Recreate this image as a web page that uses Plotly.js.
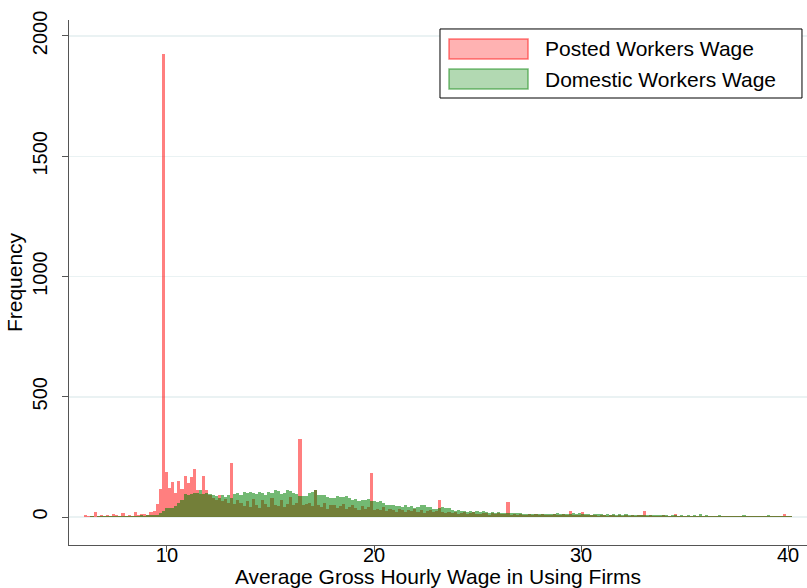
<!DOCTYPE html>
<html>
<head>
<meta charset="utf-8">
<script src="https://cdn.plot.ly/plotly-3.0.1.min.js"></script>
<style>
html,body{margin:0;padding:0;background:#fff;}
#chart{width:807px;height:588px;}
</style>
</head>
<body>
<div id="chart"></div>
<script>
// Histogram bins: start of first bin and bin width (wage units)
const binStart = 6.0;
const binWidth = 0.15;

// Frequency per bin – Posted workers
const postedFreq = [
  8,4,3,20,6,8,5,7,6,12,
  7,5,16,6,8,5,20,8,12,14,
  10,22,25,54,115,1925,186,122,147,100,
  150,115,170,140,168,200,112,95,172,112,
  90,80,70,92,65,75,60,225,55,70,
  60,45,65,40,75,50,38,70,55,42,
  80,50,45,72,40,55,85,48,60,324,
  50,55,60,45,112,50,40,58,35,48,
  52,38,45,55,35,42,50,38,30,45,
  35,40,183,30,35,28,40,25,32,30,
  22,35,28,20,30,25,32,22,28,18,
  25,30,20,24,71,20,18,22,15,20,
  14,18,22,12,16,20,14,12,18,15,
  10,16,13,18,12,14,62,10,12,8,
  14,10,9,12,7,11,9,13,8,10,
  7,12,9,8,11,10,25,9,8,10,
  21,8,10,7,9,6,8,10,6,7,
  9,5,8,6,10,5,7,6,8,9,
  25,5,7,4,6,5,8,4,6,5,
  12,4,6,5,3,6,4,5,3,6,
  4,5,3,4,6,3,5,4,3,5,
  4,3,5,4,3,6,3,4,3,5,
  4,3,4,3,5,12,4,3,2
];

// Frequency per bin – Domestic workers
const domesticFreq = [
  1,2,3,2,4,3,4,3,5,4,
  3,5,4,6,5,4,6,5,7,6,
  8,7,10,10,15,25,36,38,38,46,
  60,71,94,92,94,99,100,112,95,100,
  97,92,88,78,90,85,92,80,95,100,
  90,105,98,103,100,95,105,98,92,105,
  100,112,108,95,100,112,110,98,95,88,
  86,87,101,105,112,92,92,90,85,78,
  80,88,85,85,88,80,71,75,68,72,
  70,74,68,65,62,66,60,52,48,50,
  46,45,42,48,40,44,38,42,48,50,
  42,40,34,32,38,40,36,38,28,26,
  30,24,27,22,24,20,23,21,24,20,
  18,19,17,20,16,18,17,16,18,15,
  17,13,14,12,14,13,12,14,11,13,
  14,12,15,11,13,12,14,16,12,15,
  13,11,14,10,13,11,12,10,13,9,
  11,10,12,9,11,8,10,9,8,10,
  9,8,10,7,9,8,7,9,6,8,
  7,6,8,5,7,6,10,5,11,6,
  7,5,6,4,7,5,6,4,5,6,
  4,5,7,4,5,4,6,3,5,4,
  8,4,3,5,4,3,4,3,2
];

const seriesNames = ["Posted Workers Wage", "Domestic Workers Wage"];
const xTicks = [10, 20, 30, 40];
const yTicks = [0, 500, 1000, 1500, 2000];
const xTitle = "Average Gross Hourly Wage in Using Firms";
const yTitle = "Frequency";

const binCenters = postedFreq.map((_, i) => binStart + binWidth * (i + 0.5));

const FONT = "Liberation Sans, Arial, sans-serif";

const traces = [
  {
    type: "bar",
    x: binCenters,
    y: postedFreq,
    name: seriesNames[0],
    marker: {color: "rgba(255,0,0,0.5)", line: {width: 0}},
    showlegend: false,
    hoverinfo: "x+y+name"
  },
  {
    type: "bar",
    x: binCenters,
    y: domesticFreq,
    name: seriesNames[1],
    marker: {color: "rgba(0,128,0,0.55)", line: {width: 0}},
    showlegend: false,
    hoverinfo: "x+y+name"
  }
];

// custom legend geometry (paper coordinates)
const L = {x0: 0.5027, x1: 0.9932, y0: 0.8514, y1: 0.9829};
const keyX0 = 0.5149, keyX1 = 0.6220;
const keys = [
  {y0: 0.9257, y1: 0.9638, fill: "rgba(255,0,0,0.3)", line: "rgba(255,0,0,0.5)", ty: 0.9448},
  {y0: 0.8686, y1: 0.9067, fill: "rgba(0,128,0,0.3)", line: "rgba(0,128,0,0.5)", ty: 0.8876}
];

const shapes = [
  {type: "rect", xref: "paper", yref: "paper", x0: L.x0, x1: L.x1, y0: L.y0, y1: L.y1,
   line: {color: "#000", width: 1}, fillcolor: "#fff", layer: "above"}
];
const annotations = [];
keys.forEach((k, i) => {
  shapes.push({type: "rect", xref: "paper", yref: "paper", x0: keyX0, x1: keyX1, y0: k.y0, y1: k.y1,
    line: {color: k.line, width: 1.5}, fillcolor: k.fill, layer: "above"});
  annotations.push({xref: "paper", yref: "paper", x: 0.6423, y: k.ty, xanchor: "left", yanchor: "middle",
    text: seriesNames[i], showarrow: false, font: {family: FONT, size: 21, color: "#000"}});
});

const layout = {
  width: 807, height: 588,
  margin: {l: 69, r: 0, t: 20, b: 43},
  paper_bgcolor: "#fff", plot_bgcolor: "#fff",
  barmode: "overlay", bargap: 0,
  font: {family: FONT, size: 20, color: "#000"},
  xaxis: {
    range: [5.266, 40.918],
    tickvals: xTicks, ticktext: xTicks.map(String),
    showgrid: false, zeroline: false,
    showline: true, linecolor: "#555", linewidth: 1,
    ticks: "outside", ticklen: 6, tickcolor: "#555", tickwidth: 1,
    ticklabelstandoff: -14,
    tickfont: {family: FONT, size: 20, color: "#000"},
    title: {text: xTitle, font: {family: FONT, size: 21, color: "#000"}, standoff: 16}
  },
  yaxis: {
    range: [-116.4, 2066.5],
    tickvals: yTicks, ticktext: yTicks.map(String),
    tickangle: -90,
    showgrid: true, gridcolor: "#eaf2f3", gridwidth: 1.5,
    zeroline: false,
    showline: true, linecolor: "#555", linewidth: 1,
    ticks: "outside", ticklen: 6, tickcolor: "#555", tickwidth: 1,
    ticklabelstandoff: 7,
    tickfont: {family: FONT, size: 20, color: "#000"},
    title: {text: yTitle, font: {family: FONT, size: 21, color: "#000"}, standoff: 0}
  },
  shapes: shapes,
  annotations: annotations,
  showlegend: false
};

Plotly.newPlot("chart", traces, layout, {displayModeBar: false, staticPlot: true});
</script>
</body>
</html>
